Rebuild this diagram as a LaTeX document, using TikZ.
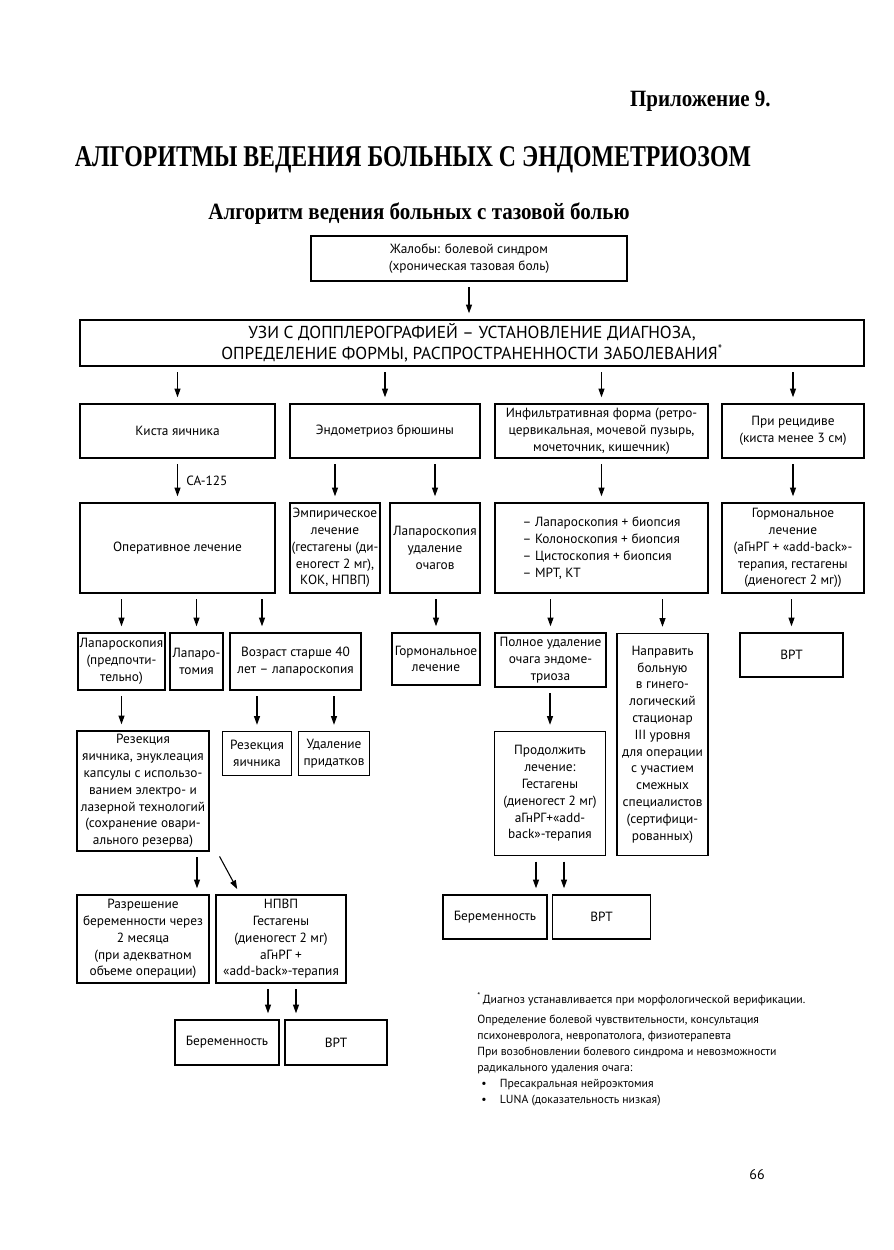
\documentclass[tikz,border=0pt]{standalone}
\usepackage{fontspec}
\setmainfont{PT Sans}
\newfontfamily\headfont[FakeStretch=0.79]{Liberation Serif}
\newfontfamily\subfont[FakeStretch=0.9]{Liberation Serif}
\usetikzlibrary{arrows.meta}

\tikzset{
  blk/.style={draw, line width=1.1pt, align=center, inner sep=1pt,
    font=\fontsize{10}{12.6}\selectfont},
  wh/.style 2 args={minimum width=#1*0.75pt, minimum height=#2*0.75pt},
  arr/.style={line width=0.8pt, -{Triangle[length=6.5pt,width=4.5pt]},
    shorten <=4pt, shorten >=4.5pt},
  head/.style={font=\headfont\bfseries\fontsize{#1}{#1}\selectfont, inner sep=0pt},
  subhead/.style={font=\subfont\bfseries\fontsize{#1}{#1}\selectfont, inner sep=0pt},
}

\begin{document}
\begin{tikzpicture}[x=0.75pt, y=-0.75pt]
  \useasboundingbox (0,0) rectangle (893,1250);

  % Headings
  \node[subhead=17.5, anchor=east] (app) at (771,101) {Приложение 9.};
  \node[head=22.6] (title) at (413,160) {АЛГОРИТМЫ ВЕДЕНИЯ БОЛЬНЫХ С ЭНДОМЕТРИОЗОМ};
  \node[subhead=17.5] (sub) at (419,214) {Алгоритм ведения больных с тазовой болью};

  % Complaints and ultrasound
  \node[blk, wh={316}{45}] (compl) at (469,258.5) {Жалобы: болевой синдром\\(хроническая тазовая боль)};
  \node[blk, wh={784}{46}, font=\fontsize{13}{15.5}\selectfont] (uzi) at (472,343)
    {УЗИ С ДОППЛЕРОГРАФИЕЙ – УСТАНОВЛЕНИЕ ДИАГНОЗА,\\ОПРЕДЕЛЕНИЕ ФОРМЫ, РАСПРОСТРАНЕННОСТИ ЗАБОЛЕВАНИЯ\textsuperscript{*}};

  % Row 1 — forms
  \node[blk, wh={195}{54}] (kista) at (177.5,431) {Киста яичника};
  \node[blk, wh={190}{54}] (brush) at (385,431) {Эндометриоз брюшины};
  \node[blk, wh={213}{54}] (infil) at (601.5,431) {Инфильтративная форма (ретро-\\цервикальная, мочевой пузырь,\\мочеточник, кишечник)};
  \node[blk, wh={142}{54}] (recid) at (793,431) {При рецидиве\\(киста менее 3 см)};

  % Row 2 — treatment / diagnostics
  \node[blk, wh={195}{90}] (oper) at (177.5,548) {Оперативное лечение};
  \node[blk, wh={90}{90}] (empir) at (335,548) {Эмпирическое\\лечение\\(гестагены (ди-\\еногест 2 мг),\\КОК, НПВП)};
  \node[blk, wh={90}{90}] (lapud) at (435,548) {Лапароскопия\\удаление\\очагов};
  \node[blk, wh={213}{90}, align=left] (diag) at (601.5,548) {– Лапароскопия + биопсия\\– Колоноскопия + биопсия\\– Цистоскопия + биопсия\\– МРТ, КТ};
  \node[blk, wh={142}{90}] (hormR) at (793,548) {Гормональное\\лечение\\(аГнРГ + «add-back»-\\терапия, гестагены\\(диеногест 2 мг))};

  % Row 3
  \node[blk, wh={87}{57}] (lapar) at (121.5,661.5) {Лапароскопия\\(предпочти-\\тельно)};
  \node[blk, wh={53}{57}] (lapt) at (196.5,661.5) {Лапаро-\\томия};
  \node[blk, wh={131}{57}] (age40) at (295.5,661.5) {Возраст старше 40\\лет – лапароскопия};
  \node[blk, wh={88}{52}] (hormB) at (436,659) {Гормональное\\лечение};
  \node[blk, wh={111}{54}] (full) at (550.5,660) {Полное удаление\\очага эндоме-\\триоза};
  \node[blk, wh={91}{222}] (refer) at (662.5,744.5) {Направить\\больную\\в гинего-\\логический\\стационар\\III уровня\\для операции\\с участием\\смежных\\специалистов\\(сертифици-\\рованных)};
  \node[blk, wh={103}{44}] (vrtR) at (791.5,655) {ВРТ};

  % Row 4
  \node[blk, wh={132}{120}] (resec) at (143,791) {Резекция\\яичника, энуклеация\\капсулы с использо-\\ванием электро- и\\лазерной технологий\\(сохранение овари-\\ального резерва)};
  \node[blk, wh={69}{44}] (resov) at (257,753.5) {Резекция\\яичника};
  \node[blk, wh={71}{44}] (adnex) at (334,753.5) {Удаление\\придатков};
  \node[blk, wh={111}{124}] (cont) at (550,793.5) {Продолжить\\лечение:\\Гестагены\\(диеногест 2 мг)\\аГнРГ+«add-\\back»-терапия};

  % Row 5
  \node[blk, wh={132}{88}] (perm) at (143,939) {Разрешение\\беременности через\\2 месяца\\(при адекватном\\объеме операции)};
  \node[blk, wh={130}{88}] (nsaid) at (281,939) {НПВП\\Гестагены\\(диеногест 2 мг)\\аГнРГ +\\«add-back»-терапия};
  \node[blk, wh={104}{44}] (pregR) at (495,917) {Беременность};
  \node[blk, wh={98}{44}] (vrtM) at (601.5,917) {ВРТ};

  % Row 6
  \node[blk, wh={104}{45}] (pregL) at (227,1042.5) {Беременность};
  \node[blk, wh={102}{45}] (vrtL) at (336,1042.5) {ВРТ};

  % Arrows
  \draw[arr] (compl.south) -- (compl.south |- uzi.north);
  \foreach \n in {kista,brush,infil,recid}
    \draw[arr] (uzi.south -| \n.north) -- (\n.north);
  \foreach \a/\b in {kista/oper,brush/empir,brush/lapud,infil/diag,recid/hormR,
                     oper/lapar,oper/lapt,lapud/hormB,diag/full,diag/refer,hormR/vrtR,
                     age40/resov,age40/adnex,full/cont}
    \draw[arr] (\a.south -| \b.north) -- (\b.north);
  \node[anchor=west, font=\fontsize{10}{12}\selectfont, inner sep=0pt] (ca) at (186,481) {CA-125};
  \draw[arr] (oper.south -| 262,0) -- (age40.north -| 262,0);
  \draw[arr] (lapar.south) -- (lapar.south |- resec.north);
  \draw[arr] (resec.south -| 197,0) -- (perm.north -| 197,0);
  \draw[arr] (resec.south -| 217,0) -- (nsaid.north -| 240,0);
  \draw[arr] (nsaid.south -| 268,0) -- (pregL.north -| 268,0);
  \draw[arr] (nsaid.south -| 296,0) -- (vrtL.north -| 296,0);
  \draw[arr] (cont.south -| 536,0) -- (pregR.north -| 536,0);
  \draw[arr] (cont.south -| 564,0) -- (vrtM.north -| 564,0);

  % Footnote
  \node[anchor=north west, align=left, inner sep=0pt, font=\fontsize{8.8}{12}\selectfont] (note) at (477,992)
    {\textsuperscript{*}\,Диагноз устанавливается при морфологической верификации.\\[3pt]
     Определение болевой чувствительности, консультация\\
     психоневролога, невропатолога, физиотерапевта\\
     При возобновлении болевого синдрома и невозможности\\
     радикального удаления очага:\\
     \hspace*{3pt}•\hspace{10pt}Пресакральная нейроэктомия\\
     \hspace*{3pt}•\hspace{10pt}LUNA (доказательность низкая)};

  % Page number
  \node[font=\fontsize{10.5}{12}\selectfont] (page) at (757,1175) {66};
\end{tikzpicture}
\end{document}
